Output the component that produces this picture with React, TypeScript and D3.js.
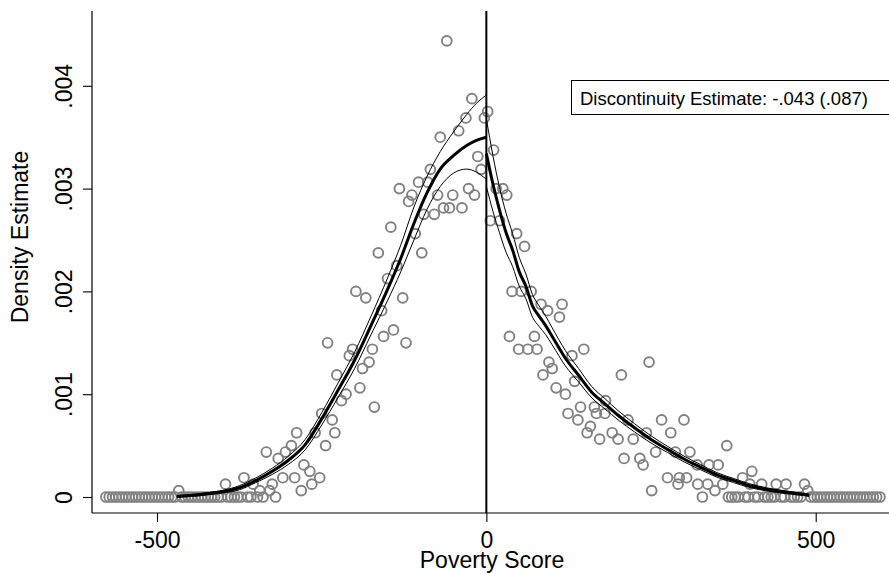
import React, { useEffect, useRef } from 'react'
import * as d3 from 'd3'

// binned density of the running variable: [score, density]
const leftBins: [number, number][] = [
  [-60, 4.4375e-3], [-22, 3.875e-3], [-3, 3.6875e-3], [-31, 3.6875e-3], [-42, 3.5625e-3],
  [-70, 3.5e-3], [-13, 3.3125e-3], [-8, 3.1875e-3], [-85, 3.1875e-3], [-103, 3.0625e-3],
  [-89, 3.0625e-3], [-132, 3.0e-3], [-113, 2.9375e-3], [-118, 2.875e-3], [-74, 2.9375e-3],
  [-51, 2.9375e-3], [-27, 3.0e-3], [-18, 2.9375e-3], [-65, 2.8125e-3], [-56, 2.8125e-3],
  [-37, 2.8125e-3], [-79, 2.75e-3], [-95, 2.75e-3], [-145, 2.625e-3], [-108, 2.5625e-3],
  [-164, 2.375e-3], [-98, 2.375e-3], [-136, 2.25e-3], [-150, 2.125e-3], [-198, 2.0e-3],
  [-183, 1.9375e-3], [-127, 1.9375e-3], [-159, 1.8125e-3], [-141, 1.625e-3], [-156, 1.5625e-3],
  [-241, 1.5e-3], [-122, 1.5e-3], [-173, 1.4375e-3], [-203, 1.4375e-3], [-208, 1.375e-3],
  [-178, 1.3125e-3], [-188, 1.25e-3], [-227, 1.1875e-3], [-192, 1.0625e-3], [-213, 1.0e-3],
  [-220, 0.9375e-3], [-170, 0.875e-3], [-250, 0.8125e-3], [-234, 0.75e-3], [-260, 0.625e-3],
  [-230, 0.625e-3], [-288, 0.625e-3], [-244, 0.5e-3], [-296, 0.5e-3], [-305, 0.4375e-3],
  [-334, 0.4375e-3], [-316, 0.375e-3], [-277, 0.3125e-3], [-268, 0.25e-3], [-309, 0.1875e-3],
  [-291, 0.1875e-3], [-253, 0.1875e-3], [-265, 0.125e-3], [-368, 0.1875e-3], [-396, 0.125e-3],
  [-325, 0.125e-3], [-354, 0.125e-3], [-281, 0.0625e-3], [-329, 0.0625e-3], [-344, 0.0625e-3],
  [-467, 0.0625e-3],
]

const rightBins: [number, number][] = [
  [2, 3.75e-3], [11, 3.375e-3], [15, 3.0e-3], [25, 3.0e-3], [31, 2.9375e-3],
  [6, 2.6875e-3], [20, 2.6875e-3], [46, 2.5625e-3], [58, 2.4375e-3], [39, 2.0e-3],
  [53, 2.0e-3], [68, 2.0e-3], [83, 1.875e-3], [93, 1.8125e-3], [115, 1.875e-3],
  [111, 1.75e-3], [35, 1.5625e-3], [73, 1.5625e-3], [49, 1.4375e-3], [63, 1.4375e-3],
  [77, 1.4375e-3], [130, 1.375e-3], [148, 1.4375e-3], [95, 1.3125e-3], [100, 1.25e-3],
  [86, 1.1875e-3], [247, 1.3125e-3], [205, 1.1875e-3], [134, 1.125e-3], [106, 1.0625e-3],
  [120, 1.0e-3], [181, 0.9375e-3], [143, 0.875e-3], [164, 0.875e-3], [124, 0.8125e-3],
  [167, 0.8125e-3], [180, 0.8125e-3], [139, 0.75e-3], [158, 0.6875e-3], [215, 0.75e-3],
  [266, 0.75e-3], [300, 0.75e-3], [153, 0.625e-3], [191, 0.625e-3], [243, 0.625e-3],
  [280, 0.625e-3], [172, 0.5625e-3], [200, 0.5625e-3], [223, 0.5625e-3], [365, 0.5e-3],
  [257, 0.4375e-3], [287, 0.4375e-3], [309, 0.4375e-3], [209, 0.375e-3], [233, 0.375e-3],
  [238, 0.3125e-3], [320, 0.3125e-3], [338, 0.3125e-3], [352, 0.3125e-3], [275, 0.1875e-3],
  [293, 0.1875e-3], [304, 0.1875e-3], [291, 0.125e-3], [321, 0.125e-3], [336, 0.125e-3],
  [389, 0.1875e-3], [403, 0.25e-3], [400, 0.125e-3], [418, 0.125e-3], [440, 0.125e-3],
  [455, 0.125e-3], [483, 0.125e-3], [488, 0.0625e-3], [251, 0.0625e-3], [347, 0.0625e-3],
  [359, 0.125e-3],
]

// empty bins in the tails
const zeroBins: number[] = [
  -577.5, -572.5, -567.5, -562.5, -557.5, -552.5, -547.5, -542.5, -537.5, -532.5, -527.5,
  -522.5, -517.5, -512.5, -507.5, -502.5, -497.5, -492.5, -487.5, -482.5, -477.5, -472.5,
  -462.5, -457.5, -452.5, -447.5, -442.5, -437.5, -432.5, -427.5, -422.5, -417.5, -412.5,
  -407.5, -402.5, -392.5, -387.5, -382.5, -377.5, -372.5, -362.5, -357.5, -347.5, -339, -320,
  328, 367.5, 372.5, 377.5, 382.5, 392.5, 397.5, 407.5, 412.5, 422.5, 427.5, 432.5, 437.5,
  447.5, 452.5, 462.5, 467.5, 472.5, 477.5, 492.5, 497.5, 502.5, 507.5, 512.5, 517.5, 522.5,
  527.5, 532.5, 537.5, 542.5, 547.5, 552.5, 557.5, 562.5, 567.5, 572.5, 577.5, 582.5, 587.5,
  592.5, 597.5,
]

// local linear density fit, left of cutoff (density in thousandths)
const leftFitX = [-470, -440, -420, -400, -375, -350, -325, -300, -275, -250, -225, -200, -175, -150, -130, -110, -90, -70, -50, -30, -15, 0]
const leftFit = [0.005, 0.02, 0.035, 0.052, 0.09, 0.16, 0.25, 0.36, 0.51, 0.76, 1.04, 1.33, 1.67, 2.02, 2.32, 2.66, 2.96, 3.19, 3.32, 3.42, 3.47, 3.5]
const leftUpper = [0.01, 0.03, 0.045, 0.065, 0.11, 0.185, 0.28, 0.4, 0.56, 0.82, 1.11, 1.41, 1.76, 2.13, 2.45, 2.82, 3.12, 3.36, 3.55, 3.72, 3.83, 3.91]
const leftLower = [0.0, 0.01, 0.025, 0.04, 0.07, 0.14, 0.22, 0.32, 0.46, 0.7, 0.97, 1.25, 1.58, 1.91, 2.19, 2.5, 2.8, 3.02, 3.15, 3.19, 3.16, 3.09]

// right of cutoff
const rightFitX = [0, 10, 20, 30, 40, 50, 60, 70, 80, 90, 100, 120, 140, 160, 180, 200, 225, 250, 275, 300, 325, 350, 375, 400, 425, 450, 475, 490]
const rightFit = [3.34, 3.045, 2.79, 2.57, 2.4, 2.19, 2.05, 1.86, 1.76, 1.667, 1.562, 1.35, 1.184, 1.02, 0.907, 0.795, 0.673, 0.56, 0.463, 0.37, 0.291, 0.215, 0.161, 0.11, 0.075, 0.05, 0.03, 0.018]
const rightUpper = [3.68, 3.32, 3.01, 2.76, 2.56, 2.33, 2.17, 1.97, 1.86, 1.76, 1.645, 1.425, 1.25, 1.075, 0.957, 0.84, 0.713, 0.595, 0.493, 0.398, 0.316, 0.237, 0.181, 0.128, 0.09, 0.063, 0.04, 0.028]
const rightLower = [3.02, 2.78, 2.57, 2.38, 2.24, 2.05, 1.93, 1.75, 1.66, 1.58, 1.48, 1.275, 1.12, 0.965, 0.857, 0.75, 0.633, 0.525, 0.433, 0.342, 0.266, 0.193, 0.141, 0.092, 0.06, 0.037, 0.02, 0.008]

const xTicks = [-500, 0, 500]
const yTicks = [0, 0.001, 0.002, 0.003, 0.004]
const xTitle = 'Poverty Score'
const yTitle = 'Density Estimate'
const note = 'Discontinuity Estimate: -.043 (.087)'

const font = '"Liberation Sans", Arial, Helvetica, sans-serif'

const App = () => {
  const svgRef = useRef<SVGSVGElement>(null)

  useEffect(() => {
    const width = 889
    const height = 574
    const plot = { left: 92, right: 892, top: 11, bottom: 513 }

    const svg = d3.select(svgRef.current).attr('width', width).attr('height', height)
    svg.selectAll('*').remove()

    const x = d3.scaleLinear().domain([-500, 500]).range([157, 815.7])
    const y = d3.scaleLinear().domain([0, 0.004]).range([497, 85.8])

    // points
    const pts = [...leftBins, ...rightBins, ...zeroBins.map((b) => [b, 0] as [number, number])]
    svg
      .append('g')
      .selectAll('circle')
      .data(pts)
      .join('circle')
      .attr('cx', (d) => x(d[0]))
      .attr('cy', (d) => y(d[1]))
      .attr('r', 4.9)
      .attr('fill', 'none')
      .attr('stroke', '#808080')
      .attr('stroke-width', 1.9)

    // fitted lines
    const line = d3
      .line<[number, number]>()
      .x((d) => x(d[0]))
      .y((d) => y(d[1] / 1000))
      .curve(d3.curveMonotoneX)
    const pair = (xs: number[], ys: number[]) => xs.map((v, i) => [v, ys[i]] as [number, number])

    const curves = [
      { d: pair(leftFitX, leftUpper), w: 1 },
      { d: pair(leftFitX, leftLower), w: 1 },
      { d: pair(rightFitX, rightUpper), w: 1 },
      { d: pair(rightFitX, rightLower), w: 1 },
      { d: pair(leftFitX, leftFit), w: 3 },
      { d: pair(rightFitX, rightFit), w: 3 },
    ]
    svg
      .append('g')
      .selectAll('path')
      .data(curves)
      .join('path')
      .attr('d', (c) => line(c.d))
      .attr('fill', 'none')
      .attr('stroke', '#000')
      .attr('stroke-width', (c) => c.w)

    // cutoff
    svg
      .append('line')
      .attr('x1', x(0))
      .attr('x2', x(0))
      .attr('y1', plot.top)
      .attr('y2', plot.bottom)
      .attr('stroke', '#000')
      .attr('stroke-width', 2)

    // axes
    const xAxis = d3
      .axisBottom(x)
      .tickValues(xTicks)
      .tickSize(9)
      .tickSizeOuter(0)
      .tickPadding(10)
      .tickFormat((d) => String(d))
    const gx = svg.append('g').attr('transform', `translate(0, ${plot.bottom})`).call(xAxis)
    gx.select('.domain').remove()
    gx.append('line')
      .attr('x1', plot.left)
      .attr('x2', plot.right)
      .attr('stroke', '#000')
      .attr('stroke-width', 1.2)
    gx.selectAll('.tick line').attr('stroke', '#000').attr('stroke-width', 1.1)
    gx.selectAll('.tick text')
      .attr('font-family', font)
      .attr('font-size', 23)
      .attr('fill', '#000')

    const yAxis = d3
      .axisLeft(y)
      .tickValues(yTicks)
      .tickSize(9)
      .tickSizeOuter(0)
      .tickFormat((d) => (+d === 0 ? '0' : String(d).replace('0.', '.')))
    const gy = svg.append('g').attr('transform', `translate(${plot.left}, 0)`).call(yAxis)
    gy.select('.domain').remove()
    gy.append('line')
      .attr('y1', plot.top)
      .attr('y2', plot.bottom)
      .attr('stroke', '#000')
      .attr('stroke-width', 1.2)
    gy.selectAll('.tick line').attr('stroke', '#000').attr('stroke-width', 1.1)
    gy.selectAll('.tick text')
      .attr('font-family', font)
      .attr('font-size', 23)
      .attr('fill', '#000')
      .attr('text-anchor', 'middle')
      .attr('transform', 'rotate(-90)')
      .attr('x', 0)
      .attr('y', -20)
      .attr('dy', 0)

    // titles
    svg
      .append('text')
      .attr('x', (plot.left + plot.right) / 2)
      .attr('y', 568)
      .attr('text-anchor', 'middle')
      .attr('font-family', font)
      .attr('font-size', 23)
      .text(xTitle)

    svg
      .append('text')
      .attr('transform', 'translate(28, 237) rotate(-90)')
      .attr('text-anchor', 'middle')
      .attr('font-family', font)
      .attr('font-size', 23)
      .text(yTitle)

    // estimate box
    svg
      .append('rect')
      .attr('x', 571.5)
      .attr('y', 80.5)
      .attr('width', 330)
      .attr('height', 34)
      .attr('fill', '#fff')
      .attr('stroke', '#000')
      .attr('stroke-width', 1)
    svg
      .append('text')
      .attr('x', 580)
      .attr('y', 104.5)
      .attr('font-family', font)
      .attr('font-size', 18.5)
      .text(note)
  }, [])

  return <svg ref={svgRef} style={{ position: 'absolute', left: 0, top: 0 }}></svg>
}

export default App
